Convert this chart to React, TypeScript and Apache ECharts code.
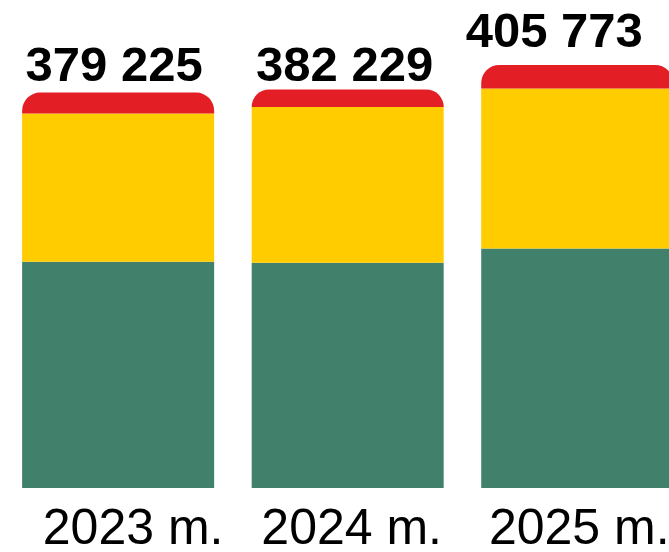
import React, { useEffect, useRef } from "react";
import * as echarts from "echarts";

const categories = ["2023 m.", "2024 m.", "2025 m."];
const totals = [379225, 382229, 405773];
const greenValues = [216900, 215900, 229700];
const yellowValues = [142300, 149500, 153400];
const redValues = [20025, 16829, 22673];
const totalLabels = ["379 225", "382 229", "405 773"];

const labelOffsets = [[-4, 0], [-3, 3], [-23, -6]];
const axisPads = [30, 8, 4];

export default function App() {
  const ref = useRef<HTMLDivElement>(null);
  useEffect(() => {
    document.body.style.margin = "0";
    document.body.style.overflow = "hidden";
    const chart = echarts.init(ref.current!, null, { renderer: "svg" });
    chart.setOption({
      animation: false,
      grid: { left: 3.35, right: 0, top: 0, bottom: 62, containLabel: false },
      xAxis: {
        type: "category",
        data: categories.map((c, i) => ({
          value: c,
          textStyle: { padding: [0, 0, 0, axisPads[i]] },
        })),
        axisLine: { show: false },
        axisTick: { show: false },
        axisLabel: {
          fontFamily: "Liberation Sans",
          fontSize: 50,
          lineHeight: 40,
          color: "#000",
          margin: 19,
          interval: 0,
        },
      },
      yAxis: {
        type: "value",
        min: 0,
        max: 468000,
        show: false,
        splitLine: { show: false },
      },
      series: [
        {
          type: "bar",
          stack: "t",
          barWidth: 192,
          data: greenValues,
          itemStyle: { color: "#41806B" },
        },
        {
          type: "bar",
          stack: "t",
          barWidth: 192,
          data: yellowValues,
          itemStyle: { color: "#FFCC00" },
        },
        {
          type: "bar",
          stack: "t",
          barWidth: 192,
          data: redValues.map((v, i) => ({
            value: v,
            label: { offset: labelOffsets[i] },
          })),
          itemStyle: { color: "#E31E24", borderRadius: [18, 18, 0, 0] },
          label: {
            show: true,
            position: "top",
            distance: 4,
            fontFamily: "Liberation Sans",
            fontWeight: "bold",
            fontSize: 49,
            color: "#000",
            formatter: (p: any) => totalLabels[p.dataIndex],
          },
        },
      ],
    });
    return () => chart.dispose();
  }, []);
  return (
    <div style={{ position: "absolute", left: 0, top: 0, width: 669, height: 552, overflow: "hidden" }}>
      <div ref={ref} style={{ width: 692, height: 552 }} />
    </div>
  );
}
